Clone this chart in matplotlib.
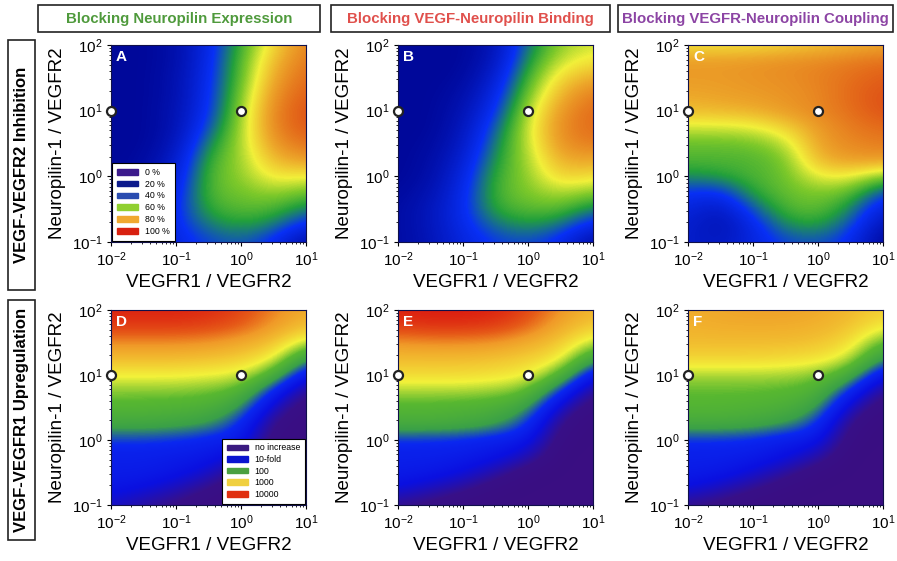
import numpy as np
import matplotlib
matplotlib.use('Agg')
from matplotlib import pyplot as pl
from matplotlib import colors as mcolors
from matplotlib.patches import Patch, Rectangle

pl.rcParams['font.family'] = ['Liberation Sans', 'DejaVu Sans']
pl.rcParams['mathtext.default'] = 'regular'

# Grid of the maps (log10 of the ratios)
logx = [-2.0, -1.5, -1.0, -0.5, 0.0, 0.5, 1.0]      # VEGFR1 / VEGFR2
logy = [2.0, 1.75, 1.5, 1.25, 1.0, 0.75, 0.5, 0.25,
        0.0, -0.25, -0.5, -0.75, -1.0]              # Neuropilin-1 / VEGFR2 (top to bottom)

# Top row: VEGF-VEGFR2 inhibition [%]
inhib_a = [
    [20, 20, 23, 36, 55, 72, 84],
    [20, 20, 23, 37, 57, 76, 86],
    [20, 20, 24, 38, 58, 79, 88],
    [20, 20, 24, 39, 60, 82, 90],
    [20, 20, 25, 40, 62, 84, 92],
    [20, 20, 25, 44, 63, 84, 91],
    [20, 20, 27, 50, 63, 81, 87],
    [20, 21, 30, 55, 62, 76, 80],
    [20, 22, 33, 57, 61, 70, 68],
    [20, 24, 36, 57, 59, 62, 58],
    [21, 26, 38, 54, 57, 56, 48],
    [22, 26, 38, 48, 52, 48, 36],
    [22, 25, 36, 42, 45, 38, 22],
]
inhib_b = [
    [20, 20, 20, 26, 48, 62, 66],
    [20, 20, 20, 28, 52, 66, 70],
    [20, 20, 21, 32, 56, 72, 78],
    [20, 20, 23, 36, 60, 77, 85],
    [20, 20, 25, 40, 64, 81, 88],
    [20, 20, 27, 45, 66, 83, 88],
    [20, 21, 29, 49, 65, 82, 85],
    [20, 22, 32, 52, 63, 78, 78],
    [20, 23, 35, 55, 61, 73, 70],
    [21, 25, 37, 56, 60, 64, 60],
    [22, 27, 38, 54, 57, 57, 48],
    [22, 27, 37, 47, 51, 47, 35],
    [22, 26, 35, 41, 43, 37, 22],
]
inhib_c = [
    [70, 70, 70, 72, 74, 76, 78],
    [80, 80, 81, 82, 83, 85, 87],
    [80, 80, 81, 82, 84, 87, 90],
    [78, 79, 80, 81, 83, 88, 92],
    [75, 76, 77, 80, 83, 87, 92],
    [66, 66, 67, 72, 80, 85, 88],
    [58, 58, 59, 64, 79, 83, 85],
    [56, 56, 56, 59, 76, 80, 80],
    [50, 52, 56, 58, 68, 68, 60],
    [40, 38, 53, 58, 60, 58, 42],
    [35, 28, 44, 56, 58, 50, 32],
    [32, 25, 36, 50, 52, 44, 25],
    [31, 28, 35, 42, 44, 38, 20],
]

# Bottom row: VEGF-VEGFR1 upregulation [log10 fold]
upreg_d = [
    [3.95, 3.95, 3.95, 3.9, 3.75, 3.4, 3.1],
    [3.8, 3.8, 3.8, 3.75, 3.6, 3.25, 2.9],
    [3.35, 3.35, 3.35, 3.3, 3.15, 2.9, 2.3],
    [2.95, 2.95, 2.95, 2.9, 2.8, 2.55, 1.5],
    [2.55, 2.55, 2.55, 2.5, 2.45, 1.9, 0.8],
    [2.2, 2.2, 2.2, 2.15, 2.0, 1.1, 0.3],
    [2.0, 2.0, 1.95, 1.9, 1.6, 0.6, 0.1],
    [1.75, 1.75, 1.7, 1.6, 1.2, 0.25, 0.0],
    [1.25, 1.25, 1.2, 1.1, 1.0, 0.1, 0.0],
    [1.05, 1.05, 1.0, 0.95, 0.7, 0.0, 0.0],
    [1.0, 1.0, 0.9, 0.7, 0.2, 0.0, 0.0],
    [0.9, 0.8, 0.6, 0.3, 0.0, 0.0, 0.0],
    [0.65, 0.45, 0.25, 0.05, 0.0, 0.0, 0.0],
]
upreg_e = [
    [3.95, 4.0, 4.0, 3.95, 3.75, 3.3, 3.0],
    [3.8, 3.85, 3.85, 3.8, 3.55, 3.1, 2.8],
    [3.3, 3.35, 3.35, 3.3, 3.1, 2.85, 2.3],
    [2.95, 2.95, 2.95, 2.9, 2.8, 2.6, 1.6],
    [2.7, 2.7, 2.7, 2.65, 2.55, 2.0, 0.8],
    [2.3, 2.3, 2.3, 2.25, 2.1, 1.2, 0.3],
    [2.0, 2.0, 1.95, 1.9, 1.65, 0.6, 0.1],
    [1.85, 1.85, 1.8, 1.65, 1.25, 0.25, 0.0],
    [1.2, 1.2, 1.15, 1.05, 0.95, 0.1, 0.0],
    [1.05, 1.05, 1.0, 0.9, 0.6, 0.0, 0.0],
    [1.0, 0.95, 0.8, 0.5, 0.1, 0.0, 0.0],
    [0.8, 0.6, 0.4, 0.1, 0.0, 0.0, 0.0],
    [0.35, 0.2, 0.05, 0.0, 0.0, 0.0, 0.0],
]
upreg_f = [
    [3.1, 3.15, 3.2, 3.2, 3.15, 3.0, 2.8],
    [3.05, 3.1, 3.1, 3.1, 3.05, 2.9, 2.55],
    [2.95, 2.95, 2.95, 2.95, 2.9, 2.7, 2.0],
    [2.75, 2.75, 2.75, 2.7, 2.65, 2.4, 1.5],
    [2.3, 2.3, 2.3, 2.3, 2.2, 1.85, 0.8],
    [2.1, 2.1, 2.1, 2.05, 1.95, 1.15, 0.3],
    [2.0, 2.0, 1.95, 1.9, 1.65, 0.6, 0.1],
    [1.8, 1.8, 1.75, 1.6, 1.25, 0.25, 0.0],
    [1.2, 1.2, 1.15, 1.0, 0.95, 0.1, 0.0],
    [1.05, 1.05, 1.0, 0.85, 0.55, 0.0, 0.0],
    [1.0, 0.95, 0.75, 0.45, 0.1, 0.0, 0.0],
    [0.8, 0.6, 0.35, 0.1, 0.0, 0.0, 0.0],
    [0.35, 0.2, 0.05, 0.0, 0.0, 0.0, 0.0],
]

# Reference points (VEGFR1/VEGFR2, Neuropilin-1/VEGFR2)
point_x = [0.01, 1.0]
point_y = [10.0, 10.0]

col_titles = ['Blocking Neuropilin Expression',
              'Blocking VEGF-Neuropilin Binding',
              'Blocking VEGFR-Neuropilin Coupling']
col_colors = ['#4f9a3c', '#e0504c', '#8c44a4']
row_titles = ['VEGF-VEGFR2 Inhibition', 'VEGF-VEGFR1 Upregulation']

inhib_labels = ['0 %', '20 %', '40 %', '60 %', '80 %', '100 %']
inhib_legcolors = ['#3c1a8c', '#0c1a8c', '#2a4cb0', '#90d030', '#f0a830', '#d82010']
upreg_labels = ['no increase', '10-fold', '100', '1000', '10000']
upreg_legcolors = ['#3a1a80', '#0a14d0', '#4aa040', '#f0d040', '#e03010']

xticks = [-2, -1, 0, 1]
yticks = [-1, 0, 1, 2]

# Colour maps
cmap_inhib = mcolors.LinearSegmentedColormap.from_list('inhib', [
    (0.0, '#3a1080'), (0.2, '#00089a'), (0.4, '#0830f5'),
    (0.52, '#22a03c'), (0.6, '#7cc82a'), (0.68, '#f2f03a'),
    (0.78, '#eda82a'), (0.88, '#e46a1a'), (1.0, '#d42010')])
cmap_upreg = mcolors.LinearSegmentedColormap.from_list('upreg', [
    (0.0, '#3a0e82'), (0.08, '#381088'), (0.2, '#0a10e0'), (0.3, '#0a28f0'),
    (0.4, '#3aa048'), (0.52, '#58b830'), (0.63, '#f2f23a'),
    (0.73, '#f2c030'), (0.82, '#f09a28'), (0.9, '#e65a18'), (1.0, '#dc1c10')])

fig = pl.figure(figsize=(8.97, 5.61), dpi=100)
W, H = 897.0, 561.0

lefts = [111, 398, 688]
rows = [(45, 242), (310, 505)]
panels = [[inhib_a, inhib_b, inhib_c], [upreg_d, upreg_e, upreg_f]]
letters = [['A', 'B', 'C'], ['D', 'E', 'F']]

minor = np.log10(np.arange(2, 10))
half = 0.125

for r, (top, bot) in enumerate(rows):
    for c, left in enumerate(lefts):
        ax = fig.add_axes([left / W, 1 - bot / H, 195 / W, (bot - top) / H])
        data = np.array(panels[r][c], dtype=float)
        if r == 0:
            cmap, vmin, vmax = cmap_inhib, 0, 100
        else:
            cmap, vmin, vmax = cmap_upreg, 0, 4
        ax.imshow(data, cmap=cmap, vmin=vmin, vmax=vmax,
                  interpolation='bicubic', aspect='auto',
                  extent=[logx[0] - 0.25, logx[-1] + 0.25,
                          logy[-1] - half, logy[0] + half])
        ax.set_xlim(-2, 1)
        ax.set_ylim(-1, 2)

        ax.set_xticks(xticks)
        ax.set_xticklabels(['$10^{%d}$' % t for t in xticks])
        ax.set_yticks(yticks)
        ax.set_yticklabels(['$10^{%d}$' % t for t in yticks])
        ax.set_xticks([d + m for d in xticks[:-1] for m in minor], minor=True)
        ax.set_yticks([d + m for d in yticks[:-1] for m in minor], minor=True)
        ax.tick_params(which='major', length=3, width=0.8, labelsize=11, pad=3)
        ax.tick_params(which='minor', length=1.5, width=0.6)
        for s in ax.spines.values():
            s.set_linewidth(0.8)
            s.set_color('#10104a')

        ax.set_xlabel('VEGFR1 / VEGFR2', fontsize=13.5, labelpad=4)
        ax.set_ylabel('Neuropilin-1 / VEGFR2', fontsize=13.5, labelpad=4)

        ax.plot(np.log10(point_x), np.log10(point_y), 'o', mfc='white',
                mec='#222222', ms=6.5, mew=1.6, clip_on=False, zorder=5)
        ax.text(0.025, 0.975, letters[r][c], transform=ax.transAxes,
                color='white', fontsize=11, fontweight='bold',
                va='top', ha='left')

        if c == 0:
            if r == 0:
                handles = [Patch(color=k, label=l)
                           for k, l in zip(inhib_legcolors, inhib_labels)]
                loc = 'lower left'
                spacing = 0.32
            else:
                handles = [Patch(color=k, label=l)
                           for k, l in zip(upreg_legcolors, upreg_labels)]
                loc = 'lower right'
                spacing = 0.3
            leg = ax.legend(handles=handles, loc=loc, fontsize=6.3,
                            handlelength=2.4, handleheight=0.6,
                            labelspacing=spacing, borderpad=0.55,
                            borderaxespad=0.15, fancybox=False,
                            framealpha=1, edgecolor='black')
            leg.get_frame().set_linewidth(0.8)

# Column header boxes
col_boxes = [(38, 320), (331, 610), (618, 893)]
for (x0, x1), t, k in zip(col_boxes, col_titles, col_colors):
    fig.patches.append(Rectangle((x0 / W, 1 - 32 / H), (x1 - x0) / W, 27 / H,
                                 transform=fig.transFigure, fill=False,
                                 edgecolor='#222222', linewidth=1.2))
    fig.text((x0 + x1) / 2 / W, 1 - 18.5 / H, t, color=k, fontsize=10.8,
             fontweight='bold', ha='center', va='center')

# Row header boxes
row_boxes = [(40, 290), (300, 540)]
for (y0, y1), t in zip(row_boxes, row_titles):
    fig.patches.append(Rectangle((8 / W, 1 - y1 / H), 27 / W, (y1 - y0) / H,
                                 transform=fig.transFigure, fill=False,
                                 edgecolor='#222222', linewidth=1.2))
    fig.text(21.5 / W, 1 - (y0 + y1) / 2 / H, t, color='black', fontsize=12,
             fontweight='bold', ha='center', va='center', rotation=90)

fig.savefig('out.png', dpi=100)
